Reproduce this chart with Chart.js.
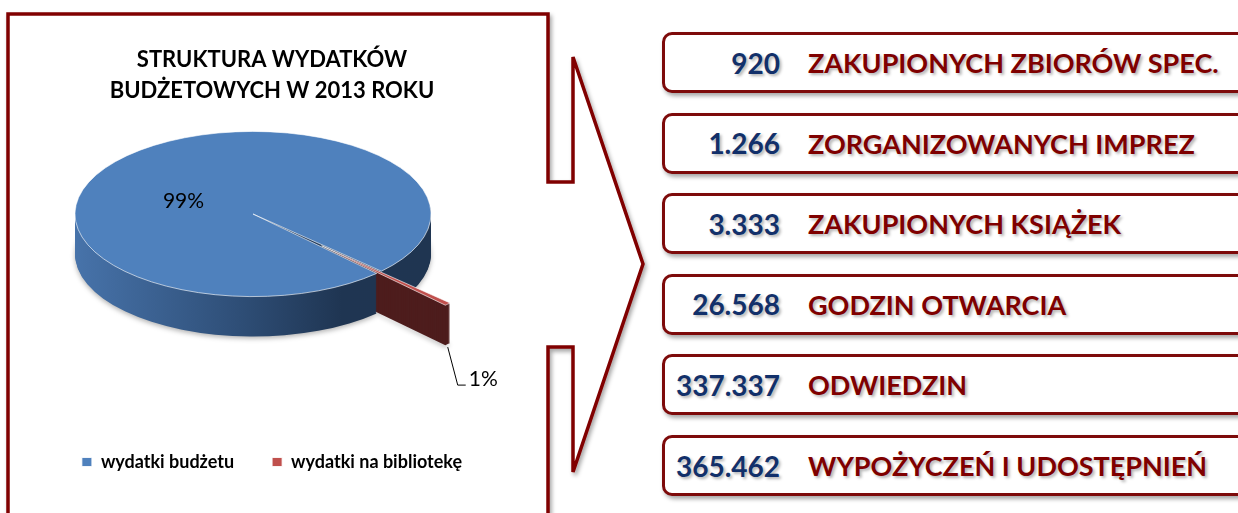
<!DOCTYPE html>
<html lang="pl">
<head>
<meta charset="utf-8">
<title>Struktura wydatków budżetowych w 2013 roku</title>
<script src="https://cdn.jsdelivr.net/npm/chart.js@4.4.1/dist/chart.umd.min.js"></script>
<style>
  html, body { margin: 0; padding: 0; background: #fff; }
  body { width: 1238px; height: 513px; position: relative; overflow: hidden; font-family: Lato, 'Open Sans', sans-serif; }
  #frame { position: absolute; left: 0; top: 0; }
  #pie { position: absolute; left: 7px; top: 20px; }
  .stat {
    position: absolute; left: 662px; width: 620px; height: 55px;
    border: 3px solid #7d0a0a; border-radius: 10px; background: #fff;
    box-shadow: 2px 3px 4px rgba(0, 0, 0, 0.35);
    display: flex; align-items: center;
    font-weight: bold; font-size: 27px; white-space: nowrap;
  }
  .stat .num { width: 115px; text-align: right; font-size: 28px; color: #12306a; text-shadow: 2px 2px 3px rgba(0, 0, 0, 0.3); }
  .stat .lbl { margin-left: 28px; color: #7f0000; text-shadow: 2px 2px 3px rgba(0, 0, 0, 0.3); }
</style>
</head>
<body>
<svg id="frame" width="1238" height="513">
  <defs>
    <filter id="shadow" x="-5%" y="-5%" width="110%" height="110%">
      <feDropShadow dx="2" dy="3" stdDeviation="2" flood-color="#000" flood-opacity="0.35"/>
    </filter>
  </defs>
  <path d="M8,14 L548,14 L548,182 L573,182 L573,57 L643,264 L573,472 L573,347 L548,347 L548,540 L8,540 Z"
        fill="#fff" stroke="#800000" stroke-width="3.5" stroke-linejoin="miter" filter="url(#shadow)"/>
</svg>
<canvas id="pie" width="530" height="470"></canvas>
<div id="stats"></div>
<script>
var titleLines = ['STRUKTURA WYDATKÓW', 'BUDŻETOWYCH W 2013 ROKU']
var categories = ['wydatki budżetu', 'wydatki na bibliotekę']
var shares = [99.4, 0.6]
var statValues = ['920', '1.266', '3.333', '26.568', '337.337', '365.462']
var statLabels = ['ZAKUPIONYCH ZBIORÓW SPEC.', 'ZORGANIZOWANYCH IMPREZ', 'ZAKUPIONYCH KSIĄŻEK', 'GODZIN OTWARCIA', 'ODWIEDZIN', 'WYPOŻYCZEŃ I UDOSTĘPNIEŃ']

var topColors = ['#4f81bd', '#c0504d']
var sideColors = [null, '#4e1d1d']

// boxes on the right
var stats = document.getElementById('stats')
statValues.forEach(function (v, i) {
  var box = document.createElement('div')
  box.className = 'stat'
  box.style.top = (32 + i * 80.6) + 'px'
  var num = document.createElement('span')
  num.className = 'num'
  num.textContent = v
  var lbl = document.createElement('span')
  lbl.className = 'lbl'
  lbl.textContent = statLabels[i]
  box.appendChild(num)
  box.appendChild(lbl)
  stats.appendChild(box)
})

// wedge path of an arc element, moved out by its explode distance
function wedge (ctx, arc, explode) {
  var p = arc.getProps(['x', 'y', 'startAngle', 'endAngle', 'outerRadius'])
  var mid = (p.startAngle + p.endAngle) / 2
  var ox = p.x + Math.cos(mid) * explode
  var oy = p.y + Math.sin(mid) * explode
  ctx.beginPath()
  ctx.moveTo(ox, oy)
  ctx.arc(ox, oy, p.outerRadius, p.startAngle, p.endAngle)
  ctx.closePath()
}

var pie3d = {
  id: 'pie3d',
  beforeDatasetsDraw: function (chart, args, opts) {
    var ctx = chart.ctx
    var meta = chart.getDatasetMeta(0)
    var first = meta.data[0]
    var cx = first.x, cy = first.y, R = first.outerRadius

    // let every arc draw itself pushed out by its explode value
    meta.data.forEach(function (arc, i) {
      if (arc._exploded) return
      var base = arc.draw
      var ex = opts.explode[i] || 0
      arc.draw = function (c, area) {
        var mid = (this.startAngle + this.endAngle) / 2
        c.save()
        c.translate(Math.cos(mid) * ex, Math.sin(mid) * ex)
        base.call(this, c, area)
        c.restore()
      }
      arc._exploded = true
    })

    // squash the pie into a tilted disc centred at (centerX, centerY)
    ctx.save()
    ctx.translate(opts.centerX, opts.centerY)
    ctx.scale(1, opts.tilt)
    ctx.translate(-cx, -cy)

    var grad = ctx.createLinearGradient(cx - R, 0, cx + R, 0)
    grad.addColorStop(0, '#4773aa')
    grad.addColorStop(0.45, '#2f4f78')
    grad.addColorStop(0.75, '#1f3552')
    grad.addColorStop(1, '#1f3551')

    var step = 1 / opts.tilt
    for (var d = opts.depth; d > 0; d--) {
      meta.data.forEach(function (arc, i) {
        ctx.save()
        ctx.translate(0, d * step)
        if (d === opts.depth) {
          ctx.shadowColor = 'rgba(0,0,0,0.3)'
          ctx.shadowBlur = 5
          ctx.shadowOffsetY = 2
        }
        wedge(ctx, arc, opts.explode[i] || 0)
        ctx.fillStyle = i === 0 ? grad : sideColors[i]
        ctx.fill()
        ctx.restore()
      })
    }
  },
  afterDatasetsDraw: function (chart, args, opts) {
    var ctx = chart.ctx
    ctx.restore()
    var meta = chart.getDatasetMeta(0)
    var first = meta.data[0]
    var cx = first.x, cy = first.y
    function toScreen (x, y) {
      return { x: x - cx + opts.centerX, y: (y - cy) * opts.tilt + opts.centerY }
    }
    var total = shares.reduce(function (a, b) { return a + b }, 0)
    ctx.save()
    ctx.fillStyle = '#000'
    ctx.strokeStyle = '#000'
    ctx.font = '21px Lato'
    ctx.textBaseline = 'middle'

    // label inside the big slice
    var a0 = meta.data[0]
    var ang0 = a0.startAngle + (a0.endAngle - a0.startAngle) * opts.labelAt[0]
    var r0 = a0.outerRadius * opts.labelAt[1]
    var p0 = toScreen(cx + Math.cos(ang0) * r0, cy + Math.sin(ang0) * r0)
    ctx.textAlign = 'center'
    ctx.fillText(Math.round(shares[0] / total * 100) + '%', p0.x, p0.y)

    // label with leader line for the exploded slice
    var a1 = meta.data[1]
    var mid = (a1.startAngle + a1.endAngle) / 2
    var dist = a1.outerRadius + (opts.explode[1] || 0)
    var p1 = toScreen(cx + Math.cos(mid) * dist, cy + Math.sin(mid) * dist)
    p1.y += opts.depth + 3
    ctx.lineWidth = 1
    ctx.beginPath()
    ctx.moveTo(p1.x, p1.y)
    ctx.lineTo(p1.x + 10, p1.y + 38)
    ctx.lineTo(p1.x + 18, p1.y + 38)
    ctx.stroke()
    ctx.textAlign = 'left'
    ctx.fillText(Math.round(shares[1] / total * 100) + '%', p1.x + 21, p1.y + 32)
    ctx.restore()
  }
}

var chart = new Chart(document.getElementById('pie'), {
  type: 'pie',
  data: {
    labels: categories,
    datasets: [{
      data: shares,
      backgroundColor: topColors,
      borderColor: 'rgba(255,255,255,0.85)',
      borderWidth: 1,
      radius: 178,
      clip: false
    }]
  },
  options: {
    responsive: false,
    animation: false,
    events: [],
    rotation: 136,
    layout: { padding: { bottom: 9 } },
    plugins: {
      title: {
        display: true,
        text: titleLines,
        color: '#000',
        font: { family: 'Lato', size: 22, weight: 'bold', lineHeight: 1.38 },
        padding: { top: 25, bottom: 10 }
      },
      legend: {
        position: 'bottom',
        labels: {
          boxWidth: 10,
          boxHeight: 9,
          color: '#000',
          font: { family: 'Lato', size: 18, weight: 'bold' },
          padding: 38
        }
      },
      tooltip: { enabled: false },
      pie3d: { tilt: 0.464, depth: 40, explode: [0, 97], centerX: 246, centerY: 194, labelAt: [0.435, 0.42] }
    }
  },
  plugins: [pie3d]
})
</script>
</body>
</html>
